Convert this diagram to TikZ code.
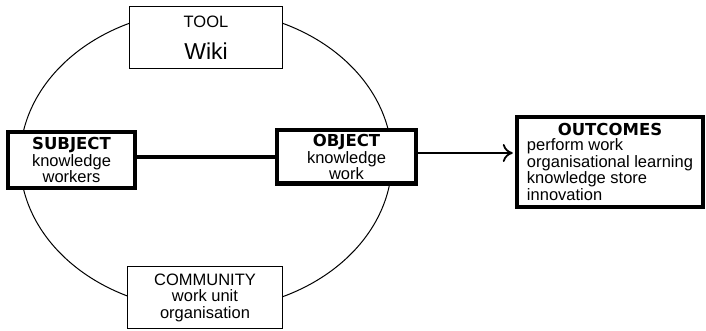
\documentclass[tikz,border=0pt]{standalone}
\usepackage{fontspec}
\setmainfont{Liberation Sans}
\newfontfamily\headfont{DejaVu Sans}
\newcommand{\hd}[1]{{\headfont\bfseries #1}}
\usetikzlibrary{arrows.meta}
\begin{document}
\begin{tikzpicture}[x=1pt,y=-1pt,
  txt/.style={font=\fontsize{16.5}{16.5}\selectfont},
  thinbox/.style={draw,line width=1pt,fill=white,inner sep=0pt,txt,align=center},
  thickbox/.style={draw,line width=4pt,fill=white,inner sep=0pt,txt,align=center},
  thickline/.style={line width=4pt},
  arrowline/.style={line width=2.5pt,-{Computer Modern Rightarrow[length=10pt,width=18pt,line width=1.8pt]}}
]
\useasboundingbox (0,0) rectangle (706,331);
\draw[line width=1pt] (206,160) ellipse [x radius=186, y radius=150];

\node[thinbox,minimum width=153pt,minimum height=62pt] (tool) at (206,37.5)
  {TOOL\\[14pt]{\fontsize{23}{23}\selectfont Wiki}};
\node[thickbox,minimum width=127pt,minimum height=56pt] (sub) at (71.5,160)
  {\hd{SUBJECT}\\knowledge\\workers};
\node[thickbox,minimum width=139pt,minimum height=53pt] (obj) at (346.5,157)
  {\hd{OBJECT}\\knowledge\\work};
\node[thinbox,minimum width=155pt,minimum height=62pt] (com) at (205,297.5)
  {COMMUNITY\\work unit\\organisation};
\node[thickbox,line width=4.5pt,minimum width=186pt,minimum height=90pt] (out) at (610,162)
  {\raisebox{-2.4pt}[\height][\depth]{\begin{tabular}{@{}l@{}}\multicolumn{1}{@{}c@{}}{\hd{OUTCOMES}}\\[-2pt]perform work\\organisational learning\\knowledge store\\innovation\end{tabular}}};

\draw[thickline] (sub.east |- 0,157) -- (obj.west |- 0,157);
\draw[arrowline] (obj.east |- 0,153) -- ([xshift=-2pt]out.west |- 0,153);
\end{tikzpicture}
\end{document}
